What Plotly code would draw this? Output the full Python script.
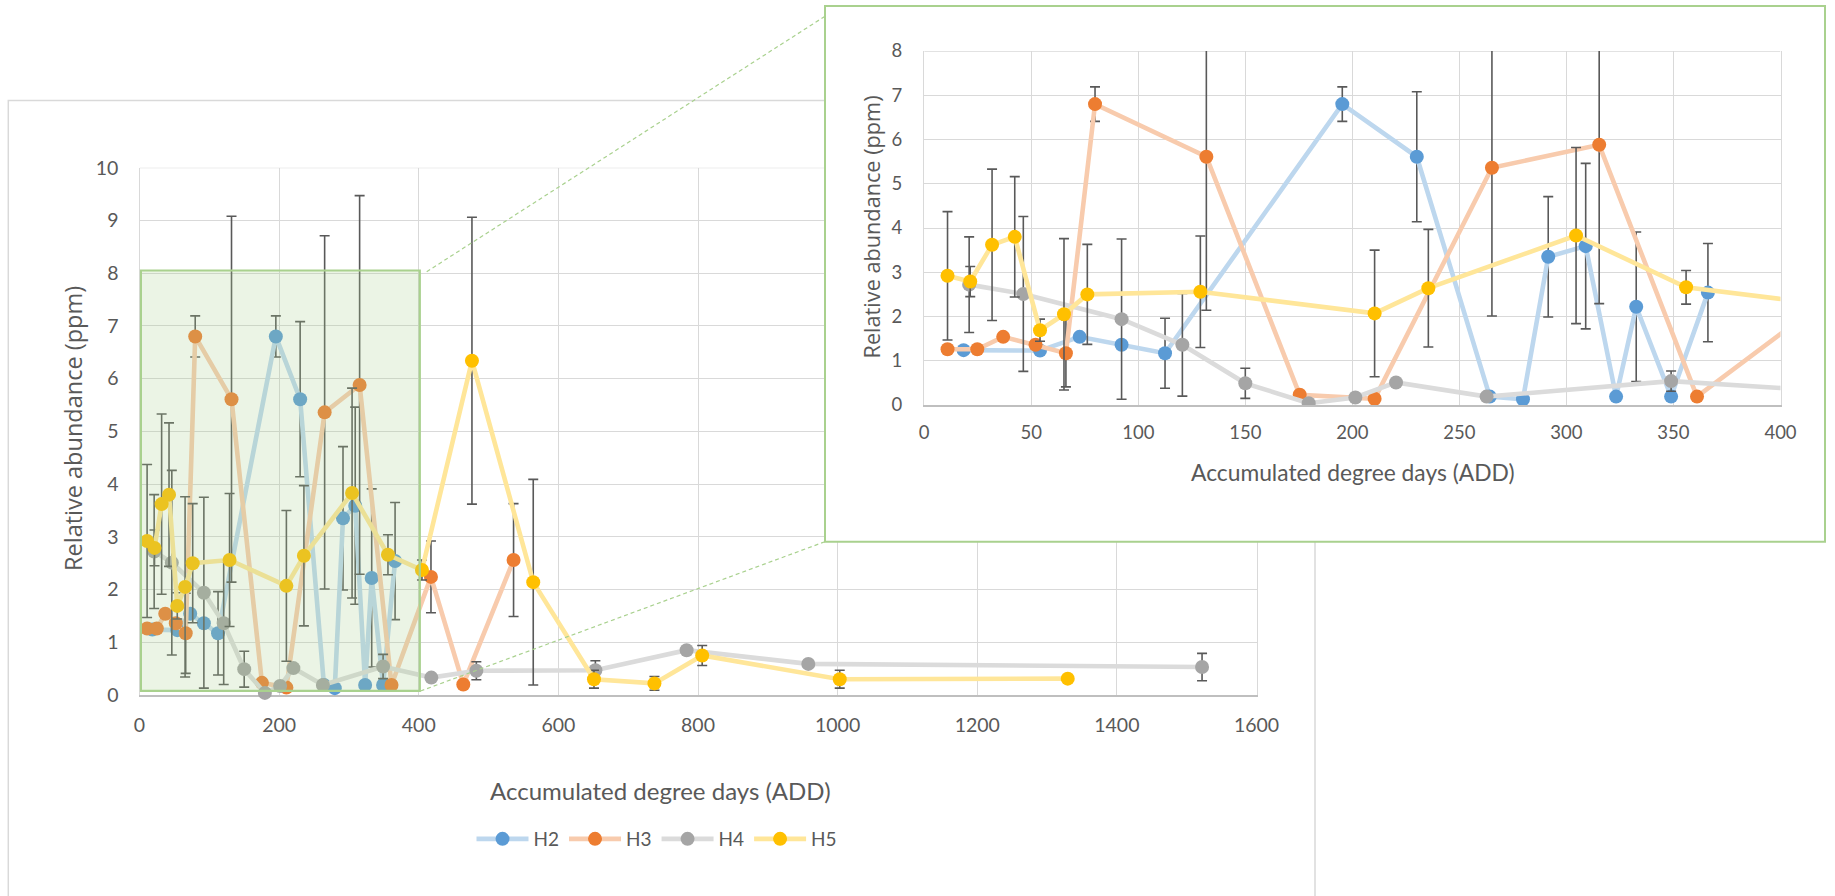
import plotly.graph_objects as go

W, H = 1835, 896

# ---------------- data ----------------
series = ["H2", "H3", "H4", "H5"]

h2_x = [18.4, 54.1, 72.6, 92.2, 112.5, 195.3, 230.1, 264.2, 279.7, 291.5, 309.0, 323.2, 332.6, 348.9, 366.1]
h2_y = [1.24, 1.23, 1.54, 1.36, 1.17, 6.80, 5.61, 0.19, 0.13, 3.35, 3.59, 0.19, 2.22, 0.19, 2.54]
h2_err = [None, None, None, None, 0.79, 0.39, 1.47, None, None, 1.36, 1.87, None, 1.69, None, 1.11]

h3_x = [10.9, 24.8, 36.9, 52.0, 66.2, 79.8, 131.8, 175.4, 210.4, 265.2, 315.3, 361.0, 417.5, 463.8, 535.8]
h3_y = [1.26, 1.26, 1.54, 1.36, 1.17, 6.80, 5.61, 0.23, 0.14, 5.36, 5.88, 0.19, 2.24, 0.20, 2.56]
h3_err = [None, None, None, None, 0.76, 0.39, 3.47, None, None, 3.35, 3.59, None, 0.68, None, 1.07]

h4_x = [21.0, 46.3, 92.2, 120.6, 150.0, 179.6, 201.4, 220.4, 262.7, 348.9, 418.0, 482.5, 653.0, 783.7, 958.0, 1522.0]
h4_y = [2.72, 2.51, 1.94, 1.36, 0.49, 0.04, 0.17, 0.51, 0.19, 0.54, 0.33, 0.46, 0.47, 0.85, 0.59, 0.53]
h4_err = [1.08, 1.75, 1.81, 1.16, 0.34, None, None, None, None, 0.23, None, 0.17, 0.18, None, None, 0.26]

h5_x = [10.9, 21.5, 31.7, 42.3, 54.1, 65.3, 76.2, 129.0, 210.4, 235.5, 304.5, 355.9, 404.6, 476.2, 564.0,
        651.0, 737.6, 806.0, 1003.0, 1329.6]
h5_y = [2.92, 2.79, 3.62, 3.80, 1.69, 2.05, 2.50, 2.56, 2.07, 2.64, 3.83, 2.66, 2.37, 6.34, 2.14,
        0.30, 0.22, 0.75, 0.30, 0.31]
h5_err = [1.45, 0.34, 1.71, 1.36, 0.25, 1.71, 1.13, 1.26, 1.43, 1.33, 1.99, 0.38, 0.19, 2.72, 1.95,
          0.17, 0.13, 0.19, 0.17, None]

x_title = "Accumulated degree days (ADD)"
y_title = "Relative abundance (ppm)"

main_x_range = [0, 1600]
main_y_range = [0, 10]
inset_x_range = [0, 400]
inset_y_range = [0, 8]
zoom_region = dict(x0=2, x1=401.5, y0=0.08, y1=8.05)

# ---------------- styling ----------------
line_colors = {"H2": "#BDD7EE", "H3": "#F8CBAD", "H4": "#DBDBDB", "H5": "#FFE699"}
marker_colors = {"H2": "#5B9BD5", "H3": "#ED7D31", "H4": "#A5A5A5", "H5": "#FFC000"}
data = {
    "H2": (h2_x, h2_y, h2_err),
    "H3": (h3_x, h3_y, h3_err),
    "H4": (h4_x, h4_y, h4_err),
    "H5": (h5_x, h5_y, h5_err),
}

TXT = "#595959"
GRID = "#D9D9D9"
GREEN = "#A9D18E"


def fx(p):
    return p / W


def fy(p):
    return 1 - p / H


MAIN_X = (139.5, 1256.5)
MAIN_Y = (167.7, 695.0)
BOX = (825.0, 6.0, 1825.0, 541.7)
INS_X = (924.2, 1780.5)
INS_Y = (51.0, 405.0)

fig = go.Figure()

for name in series:
    xs, ys, es = data[name]
    fig.add_trace(go.Scatter(
        x=xs, y=ys, mode="lines+markers", name=name,
        line=dict(color=line_colors[name], width=4.6),
        marker=dict(color=marker_colors[name], size=14),
        error_y=dict(type="data", array=es, visible=True, color=TXT, thickness=1.6, width=5),
        cliponaxis=False, xaxis="x", yaxis="y", hoverinfo="x+y+name",
    ))

# empty subplot giving the opaque white inset panel
fig.add_trace(go.Scatter(x=[None], y=[None], xaxis="x2", yaxis="y2", showlegend=False, hoverinfo="skip"))

for name in series:
    xs, ys, es = data[name]
    fig.add_trace(go.Scatter(
        x=xs, y=ys, mode="lines+markers", name=name, showlegend=False,
        line=dict(color=line_colors[name], width=4.6),
        marker=dict(color=marker_colors[name], size=14),
        error_y=dict(type="data", array=es, visible=True, color=TXT, thickness=1.6, width=5),
        cliponaxis=True, xaxis="x3", yaxis="y3", hoverinfo="x+y+name",
    ))

tickfont_main = dict(family="Lato", size=19.5, color=TXT)
tickfont_ins = dict(family="Lato", size=18.5, color=TXT)

fig.update_layout(
    width=W, height=H, autosize=False,
    margin=dict(l=0, r=0, t=0, b=0, pad=0, autoexpand=False),
    paper_bgcolor="white", plot_bgcolor="white",
    font=dict(family="Lato", color=TXT),
    xaxis=dict(domain=[fx(MAIN_X[0]), fx(MAIN_X[1])], range=main_x_range, dtick=200, tick0=0,
               anchor="y", showgrid=True, gridcolor=GRID, gridwidth=1.3, zeroline=False,
               showline=True, linecolor="#BFBFBF", linewidth=2, ticks="", tickfont=tickfont_main,
               ticklabelstandoff=12, layer="below traces", fixedrange=True, automargin=False),
    yaxis=dict(domain=[fy(MAIN_Y[1]), fy(MAIN_Y[0])], range=main_y_range, dtick=1, tick0=0,
               anchor="x", showgrid=True, gridcolor=GRID, gridwidth=1.3, zeroline=False,
               showline=True, mirror=True, linecolor=GRID, linewidth=1.3, ticks="",
               tickfont=tickfont_main, ticklabelstandoff=16, layer="below traces", fixedrange=True,
               automargin=False),
    xaxis2=dict(domain=[fx(BOX[0]), fx(BOX[2])], anchor="y2", visible=False, range=[0, 1], fixedrange=True),
    yaxis2=dict(domain=[fy(BOX[3]), fy(BOX[1])], anchor="x2", visible=False, range=[0, 1], fixedrange=True),
    xaxis3=dict(domain=[fx(INS_X[0]), fx(INS_X[1])], range=inset_x_range, dtick=50, tick0=0,
                anchor="y3", showgrid=True, gridcolor=GRID, gridwidth=1.3, zeroline=False,
                showline=True, linecolor="#BFBFBF", linewidth=2, ticks="", tickfont=tickfont_ins,
                ticklabelstandoff=10, layer="below traces", fixedrange=True, automargin=False),
    yaxis3=dict(domain=[fy(INS_Y[1]), fy(INS_Y[0])], range=inset_y_range, dtick=1, tick0=0,
                anchor="x3", showgrid=True, gridcolor=GRID, gridwidth=1.3, zeroline=False,
                showline=True, mirror=True, linecolor=GRID, linewidth=1.3, ticks="",
                tickfont=tickfont_ins, ticklabelstandoff=17, layer="below traces", fixedrange=True,
                automargin=False),
    legend=dict(orientation="h", x=fx(471.5), xanchor="left", y=fy(839), yanchor="middle",
                font=dict(family="Lato", size=19, color=TXT), bgcolor="rgba(0,0,0,0)",
                itemwidth=52),
    showlegend=True,
)

shapes = [
    # outer border of the main chart
    dict(type="rect", xref="paper", yref="paper", x0=fx(8.3), x1=fx(1315), y0=fy(905), y1=fy(100.5),
         line=dict(color=GRID, width=1.5), fillcolor="rgba(0,0,0,0)", layer="below"),
    # top frame lines
    dict(type="line", xref="x", yref="y", x0=main_x_range[0], x1=main_x_range[1],
         y0=main_y_range[1], y1=main_y_range[1], line=dict(color=GRID, width=1.3), layer="below"),
    dict(type="line", xref="x3", yref="y3", x0=inset_x_range[0], x1=inset_x_range[1],
         y0=inset_y_range[1], y1=inset_y_range[1], line=dict(color=GRID, width=1.3), layer="below"),
    # zoom region highlight
    dict(type="rect", xref="x", yref="y", x0=zoom_region["x0"], x1=zoom_region["x1"],
         y0=zoom_region["y0"], y1=zoom_region["y1"], line=dict(color=GREEN, width=2.2),
         fillcolor="rgba(169,209,142,0.23)", layer="above"),
    # connector lines
    dict(type="line", xref="paper", yref="paper", x0=fx(426.7), y0=fy(271.7), x1=fx(824.3), y1=fy(16.7),
         line=dict(color=GREEN, width=1.2, dash="4px,3px"), layer="above"),
    dict(type="line", xref="paper", yref="paper", x0=fx(420.5), y0=fy(691.0), x1=fx(825.0), y1=fy(541.7),
         line=dict(color=GREEN, width=1.2, dash="4px,3px"), layer="above"),
    # inset border
    dict(type="rect", xref="paper", yref="paper", x0=fx(BOX[0]), x1=fx(BOX[2]), y0=fy(BOX[3]), y1=fy(BOX[1]),
         line=dict(color=GREEN, width=2), fillcolor="rgba(0,0,0,0)", layer="above"),
]
fig.update_layout(shapes=shapes)

title_font_y_main = dict(family="Open Sans", size=23.5, color=TXT)
title_font_y_ins = dict(family="Open Sans", size=21.7, color=TXT)
title_font_x_main = dict(family="Lato", size=24, color=TXT)
title_font_x_ins = dict(family="Lato", size=22.8, color=TXT)

fig.update_layout(annotations=[
    dict(text=y_title, x=fx(73), y=fy(429), xref="paper", yref="paper", showarrow=False,
         textangle=-90, xanchor="center", yanchor="middle", font=title_font_y_main),
    dict(text=x_title, x=fx(660), y=fy(790), xref="paper", yref="paper", showarrow=False,
         xanchor="center", yanchor="middle", font=title_font_x_main),
    dict(text=y_title, x=fx(871), y=fy(227.5), xref="paper", yref="paper", showarrow=False,
         textangle=-90, xanchor="center", yanchor="middle", font=title_font_y_ins),
    dict(text=x_title, x=fx(1352), y=fy(472), xref="paper", yref="paper", showarrow=False,
         xanchor="center", yanchor="middle", font=title_font_x_ins),
])

fig.write_html("out.html", config={"displayModeBar": False},
               post_script="document.body.style.margin='0';document.body.style.overflow='hidden';")
